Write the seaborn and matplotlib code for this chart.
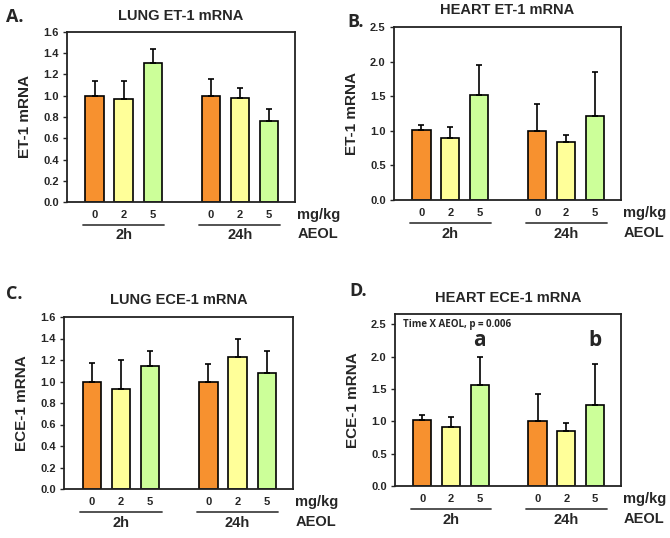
import numpy as np
import pandas as pd
import matplotlib
matplotlib.use("Agg")
import matplotlib.pyplot as plt
import seaborn as sns

# bar positions: 2h group (0,1,2) and 24h group (4,5,6)
positions = [0, 1, 2, 4, 5, 6]
doses = ["0", "2", "5", "0", "2", "5"]
times = ["2h", "24h"]
dose_colors = {"0": "#F7912F", "2": "#FFFF99", "5": "#CCFF99"}

lung_et1_mean = [1.00, 0.97, 1.31, 1.00, 0.98, 0.76]
lung_et1_se = [0.14, 0.17, 0.13, 0.16, 0.09, 0.12]
heart_et1_mean = [1.01, 0.90, 1.52, 0.99, 0.84, 1.22]
heart_et1_se = [0.07, 0.15, 0.43, 0.40, 0.10, 0.63]
lung_ece1_mean = [1.00, 0.93, 1.14, 1.00, 1.23, 1.08]
lung_ece1_se = [0.17, 0.27, 0.14, 0.16, 0.17, 0.20]
heart_ece1_mean = [1.02, 0.91, 1.56, 1.01, 0.85, 1.25]
heart_ece1_se = [0.08, 0.16, 0.43, 0.42, 0.12, 0.63]

sns.set_style("ticks")
plt.rcParams["font.family"] = ["Liberation Sans", "DejaVu Sans"]
plt.rcParams["font.weight"] = "bold"

W, H = 670, 538
fig = plt.figure(figsize=(W / 100, H / 100), dpi=100)


def add_axes(l, t, r, b):
    return fig.add_axes([l / W, 1 - b / H, (r - l) / W, (b - t) / H])


def panel(box, letter, letter_xy, title, ylabel, means, se, ylim, yticks, fmt):
    ax = add_axes(*box)
    df = pd.DataFrame({"pos": positions, "val": means, "dose": doses})
    sns.barplot(data=df, x="pos", y="val", hue="dose", palette=dose_colors,
                native_scale=True, dodge=False, width=0.63, errorbar=None,
                saturation=1, edgecolor="black", linewidth=1.2, legend=False, ax=ax)
    ax.errorbar(positions, means, yerr=[np.zeros(len(se)), se], fmt="none",
                ecolor="black", elinewidth=1.2, capsize=2.5, capthick=1.2)
    ax.set_xlim(-0.95, 6.9)
    ax.set_ylim(*ylim)
    ax.set_yticks(yticks)
    ax.set_yticklabels([fmt.format(v) for v in yticks], fontsize=8, fontweight="bold")
    ax.set_xticks(positions)
    ax.set_xticklabels(doses, fontsize=8, fontweight="bold")
    ax.tick_params(axis="x", length=0, pad=6)
    ax.tick_params(axis="y", length=3, width=1, pad=3)
    for s in ax.spines.values():
        s.set_visible(True)
        s.set_linewidth(1.3)
        s.set_color("#222222")
    ax.set_xlabel("")
    ax.set_ylabel(ylabel, fontsize=11, fontweight="bold", labelpad=8)
    ax.set_title(title, fontsize=10.5, fontweight="bold", pad=9)
    # group underlines and labels
    tr = ax.get_xaxis_transform()
    for center, lab in zip([1, 5], times):
        ax.plot([center - 1.4, center + 1.4], [-0.135, -0.135], color="#444444",
                lw=1.3, transform=tr, clip_on=False)
        ax.text(center, -0.155, lab, transform=tr, ha="center", va="top",
                fontsize=10.5, fontweight="bold")
    ax.text(1.01, -0.075, "mg/kg", transform=ax.transAxes, ha="left", va="center",
            fontsize=10.5, fontweight="bold")
    ax.text(1.01, -0.19, "AEOL", transform=ax.transAxes, ha="left", va="center",
            fontsize=10.5, fontweight="bold")
    fig.text(letter_xy[0] / W, 1 - letter_xy[1] / H, letter, ha="left", va="center",
             fontsize=13, fontweight="bold", family=["Open Sans", "DejaVu Sans"])
    return ax


panel((67, 32, 295, 202), "A.", (6, 17), "LUNG ET-1 mRNA", "ET-1 mRNA",
      lung_et1_mean, lung_et1_se, (0, 1.6), np.arange(0, 1.61, 0.2), "{:.1f}")
panel((394, 27, 621, 200), "B.", (347, 22), "HEART ET-1 mRNA", "ET-1 mRNA",
      heart_et1_mean, heart_et1_se, (0, 2.5), np.arange(0, 2.51, 0.5), "{:.1f}")
panel((64, 317, 293, 489), "C.", (6, 294), "LUNG ECE-1 mRNA", "ECE-1 mRNA",
      lung_ece1_mean, lung_ece1_se, (0, 1.6), np.arange(0, 1.61, 0.2), "{:.1f}")
axd = panel((395, 314, 621, 486), "D.", (349, 291), "HEART ECE-1 mRNA", "ECE-1 mRNA",
            heart_ece1_mean, heart_ece1_se, (0, 2.66), np.arange(0, 2.51, 0.5), "{:.1f}")

axd.text(0.035, 0.94, "Time X AEOL, p = 0.006", transform=axd.transAxes, ha="left",
         va="center", fontsize=7, fontweight="bold", family=["Open Sans", "DejaVu Sans"])
for p, lab in zip([2, 6], ["a", "b"]):
    axd.text(p, 2.16, lab, ha="center", va="baseline", fontsize=15,
             fontweight="bold", family=["Open Sans", "DejaVu Sans"])

fig.savefig("out.png", dpi=100)
